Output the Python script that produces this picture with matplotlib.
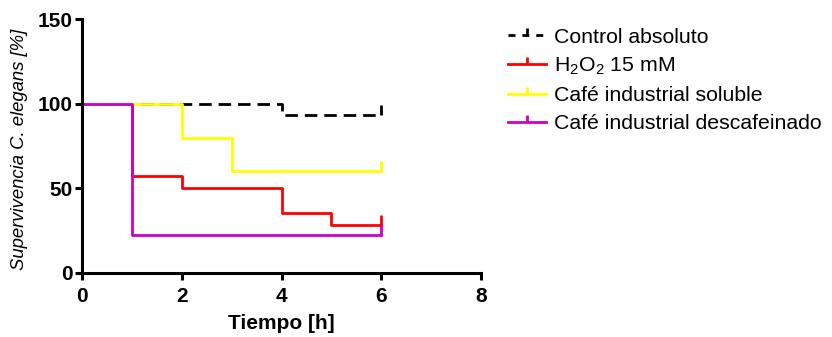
import matplotlib
matplotlib.use("Agg")
import matplotlib.pyplot as plt
from matplotlib.lines import Line2D

# Survival data (Kaplan-Meier style steps)
tiempo = [0, 1, 2, 3, 4, 5, 6]
control = [100, 100, 100, 100, 93.3, 93.3, 93.3]
h2o2 = [100, 57.1, 50, 50, 35.7, 28.6, 28.6]
soluble = [100, 100, 80, 60, 60, 60, 60]
descaf = [100, 22.2, 22.2, 22.2, 22.2, 22.2, 22.2]

labels = ["Control absoluto", "H$_2$O$_2$ 15 mM",
          "Café industrial soluble", "Café industrial descafeinado"]
colors = ["black", "#ff0000", "#ffff00", "#cc00cc"]
styles = ["--", "-", "-", "-"]
series = [control, h2o2, soluble, descaf]

plt.rcParams['font.family'] = ['Liberation Sans', 'DejaVu Sans']
plt.rcParams['mathtext.fontset'] = 'custom'
plt.rcParams['mathtext.rm'] = 'Liberation Sans'

fig = plt.figure(figsize=(8.32, 3.37), dpi=100)
ax = fig.add_axes([0.0986, 0.19, 0.4796, 0.7536])

for vals, c, ls in zip(series, colors, styles):
    ax.step(tiempo, vals, where="post", color=c, linestyle=ls, lw=2,
            dashes=(4.5, 2.5) if ls == "--" else (None, None))
    # censor tick at end
    ax.plot([tiempo[-1]], [vals[-1]], marker=2, color=c, markersize=7, mew=2)

ax.set_xlim(0, 8)
ax.set_ylim(0, 150)
ax.set_xticks([0, 2, 4, 6, 8])
ax.set_yticks([0, 50, 100, 150])
for s in ["top", "right"]:
    ax.spines[s].set_visible(False)
for s in ["left", "bottom"]:
    ax.spines[s].set_linewidth(2.2)
ax.tick_params(width=2.2, length=5, labelsize=15)
ax.tick_params(axis="x", pad=5)
ax.tick_params(axis="y", pad=2)
for t in ax.get_xticklabels() + ax.get_yticklabels():
    t.set_fontweight("bold")
ax.set_xlabel("Tiempo [h]", fontsize=15, fontweight="bold", labelpad=6)
ylab = ax.set_ylabel("Supervivencia C. elegans [%]", fontsize=13.3, fontstyle="italic",
                     labelpad=7)
ylab.set_y(0.485)

handles = []
for c, ls in zip(colors, styles):
    handles.append(Line2D([0], [0], color=c, linestyle=ls, lw=2,
                          dashes=(2.5, 2.5) if ls == "--" else (None, None),
                          marker=2, markersize=5, mew=2, markevery=[1]))
leg = fig.legend(handles, labels, loc="upper left", bbox_to_anchor=(0.61, 0.918),
                 frameon=False, fontsize=15.3, handlelength=1.8, labelspacing=0.42,
                 handletextpad=0.4, borderpad=0, borderaxespad=0)

fig.savefig("out.png", dpi=100)
